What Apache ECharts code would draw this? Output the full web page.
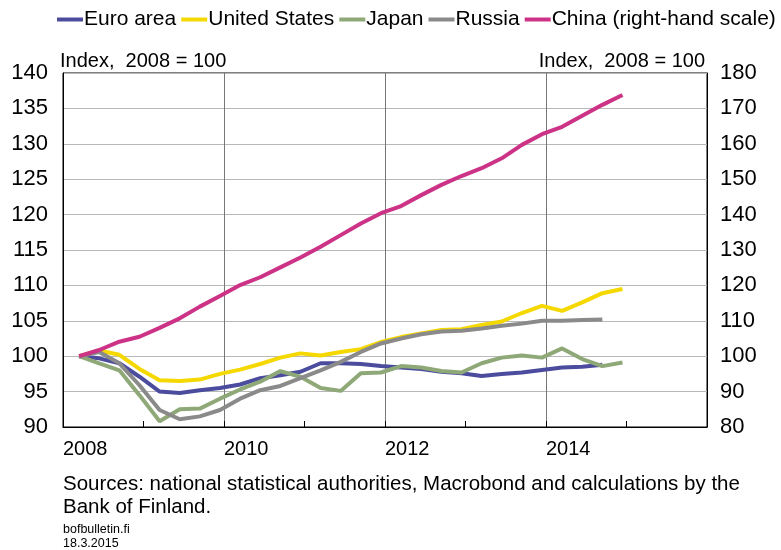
<!DOCTYPE html>
<html>
<head>
<meta charset="utf-8">
<script src="https://cdn.jsdelivr.net/npm/echarts@6/dist/echarts.min.js"></script>
<style>
  html, body { margin: 0; padding: 0; background: #fff; }
  #chart { width: 781px; height: 550px; }
</style>
</head>
<body>
<div id="chart"></div>
<script>
// quarterly data, 2008Q1 .. 2014Q4, index 2008 = 100
const quarters = []
for (let y = 2008; y <= 2014; y++) {
  for (let q = 1; q <= 4; q++) quarters.push(y + 'Q' + q)
}

const euroArea = [100, 99.7, 99.0, 97.1, 95.0, 94.8, 95.2, 95.5, 96.0, 96.9, 97.3, 97.8, 99.0, 99.0,
  98.9, 98.6, 98.4, 98.2, 97.8, 97.6, 97.2, 97.5, 97.7, 98.05, 98.4, 98.5, 98.8]
const unitedStates = [100, 100.8, 100.2, 98.2, 96.6, 96.5, 96.7, 97.5, 98.1, 98.9, 99.8, 100.4, 100.1, 100.6,
  101.0, 102.0, 102.7, 103.2, 103.7, 103.8, 104.4, 104.9, 106.1, 107.1, 106.4, 107.6, 108.9, 109.5]
const japan = [100, 99.0, 98.0, 94.5, 90.8, 92.5, 92.6, 94.0, 95.3, 96.4, 97.9, 97.1, 95.5, 95.1,
  97.6, 97.7, 98.6, 98.4, 97.9, 97.7, 99.0, 99.8, 100.1, 99.8, 101.1, 99.6, 98.6, 99.1]
const russia = [100, 100.6, 99.0, 95.9, 92.4, 91.1, 91.5, 92.4, 94.0, 95.2, 95.8, 96.9, 98.0, 99.2,
  100.6, 101.8, 102.5, 103.1, 103.5, 103.6, 103.9, 104.3, 104.6, 105.0, 105.0, 105.1, 105.2]
const china = [100, 101.75, 104.1, 105.5, 108.0, 110.7, 114.0, 117.0, 120.1, 122.3, 125.1, 127.9, 130.9, 134.2,
  137.5, 140.4, 142.4, 145.5, 148.4, 150.9, 153.1, 155.9, 159.7, 162.7, 164.8, 167.9, 171.0, 173.8]

const font = "'Liberation Sans', Arial, sans-serif"

// quarter label -> position on a decimal-year axis
function qPos(label) {
  const y = +label.slice(0, 4)
  const q = +label.slice(5)
  return y + (q - 0.2) / 4
}
function pairs(values) {
  return values.map((v, i) => [qPos(quarters[i]), v])
}

function line(name, values, color, yAxisIndex) {
  return {
    name: name,
    type: "line",
    yAxisIndex: yAxisIndex,
    data: pairs(values),
    showSymbol: false,
    symbol: "none",
    lineStyle: { color: color, width: 4 },
    itemStyle: { color: color },
    animation: false
  }
}

const chart = echarts.init(document.getElementById("chart"))
chart.setOption({
  animation: false,
  textStyle: { fontFamily: font },
  legend: {
    top: 9,
    left: 57,
    width: 730,
    padding: 0,
    itemWidth: 26,
    itemHeight: 4,
    itemGap: 5,
    icon: "rect",
    textStyle: { fontSize: 21, color: "#000", fontFamily: font, padding: [0, 0, 0, -4] },
    data: ["Euro area", "United States", "Japan", "Russia", "China (right-hand scale)"]
  },
  grid: {
    left: 63,
    right: 74,
    top: 73,
    bottom: 123,
    show: true,
    borderColor: "#000",
    borderWidth: 1
  },
  xAxis: {
    type: "value",
    min: 2008,
    max: 2016,
    interval: 2,
    axisLine: { show: true, lineStyle: { color: "#000", width: 1 } },
    axisTick: { show: true, inside: true, length: 6, lineStyle: { color: "#000" } },
    minorTick: { show: true, splitNumber: 2, length: 6, lineStyle: { color: "#000" } },
    splitLine: { show: true, lineStyle: { color: "#777", width: 1 } },
    axisLabel: {
      fontSize: 20,
      color: "#000",
      align: "left",
      margin: 12,
      showMaxLabel: false,
      formatter: v => String(v)
    }
  },
  yAxis: [
    {
      type: "value",
      min: 90,
      max: 140,
      interval: 5,
      position: "left",
      name: "Index,  2008 = 100",
      nameLocation: "end",
      nameGap: 2,
      nameTextStyle: { fontSize: 20, color: "#000", align: "left", padding: [0, 0, 0, -3] },
      axisLine: { show: true, lineStyle: { color: "#000" } },
      axisTick: { show: false },
      splitLine: { show: true, lineStyle: { color: "#b8b8b8", width: 1 } },
      axisLabel: { fontSize: 22, color: "#000", margin: 15 }
    },
    {
      type: "value",
      min: 80,
      max: 180,
      interval: 10,
      position: "right",
      name: "Index,  2008 = 100",
      nameLocation: "end",
      nameGap: 2,
      nameTextStyle: { fontSize: 20, color: "#000", align: "right", padding: [0, 2, 0, 0] },
      axisLine: { show: true, lineStyle: { color: "#000" } },
      axisTick: { show: false },
      splitLine: { show: false },
      axisLabel: { fontSize: 22, color: "#000", margin: 13 }
    }
  ],
  series: [
    line("Euro area", euroArea, "#4C4C9E", 0),
    line("United States", unitedStates, "#F5D800", 0),
    line("Japan", japan, "#8FA878", 0),
    line("Russia", russia, "#8A8A8A", 0),
    line("China (right-hand scale)", china, "#CC3387", 1)
  ],
  graphic: [
    {
      type: "text", left: 63, top: 474,
      style: { text: "Sources: national statistical authorities, Macrobond and calculations by the", font: "20.5px " + font, fill: "#000" }
    },
    {
      type: "text", left: 63, top: 497,
      style: { text: "Bank of Finland.", font: "20.5px " + font, fill: "#000" }
    },
    {
      type: "text", left: 63, top: 523,
      style: { text: "bofbulletin.fi", font: "12.5px " + font, fill: "#000" }
    },
    {
      type: "text", left: 63, top: 537,
      style: { text: "18.3.2015", font: "12.5px " + font, fill: "#000" }
    }
  ]
})
</script>
</body>
</html>
